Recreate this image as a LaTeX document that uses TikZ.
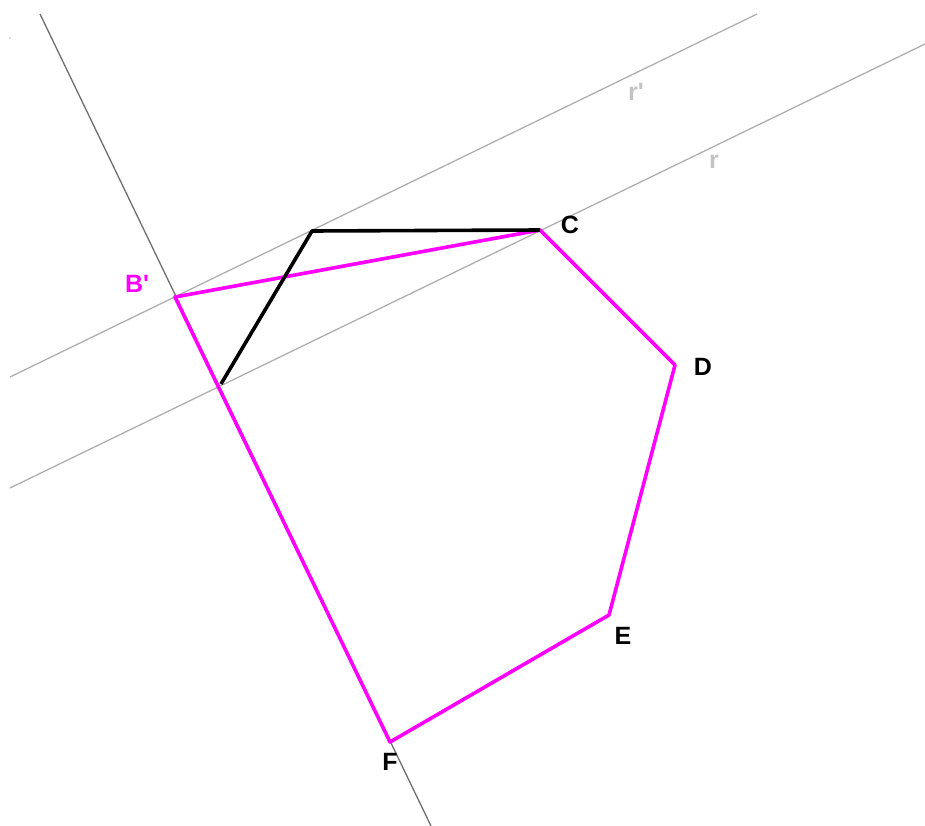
\documentclass[tikz,border=0pt]{standalone}
\usepackage{fontspec}
\setmainfont{Liberation Sans}
\begin{document}
\begin{tikzpicture}[x=1pt,y=-1pt,
  guide/.style={draw={rgb,255:red,175;green,175;blue,175},line width=1.3pt},
  guidedark/.style={draw={rgb,255:red,110;green,110;blue,110},line width=1.3pt},
  poly/.style={draw={rgb,255:red,255;green,0;blue,255},line width=3.6pt,line join=round},
  blk/.style={draw=black,line width=3.6pt,line join=round},
  lbl/.style={font=\fontsize{25}{29}\selectfont\bfseries,inner sep=0pt},
  glbl/.style={font=\fontsize{25}{29}\selectfont\bfseries,inner sep=0pt,text={rgb,255:red,195;green,195;blue,195}}
]
\useasboundingbox (0,0) rectangle (925,826);
% coordinates
\coordinate (B) at (175,297);
\coordinate (C) at (540,230);
\coordinate (D) at (675,365);
\coordinate (E) at (609,615);
\coordinate (F) at (390,742);
\coordinate (P) at (221,384);
\coordinate (Q) at (312,231);
\coordinate (L1a) at (40,14);
\coordinate (L1b) at (431,826);
\coordinate (Ra) at (10,488);
\coordinate (Rb) at (925,44);
\coordinate (Rpa) at (10,377);
\coordinate (Rpb) at (757,14);
% guide lines
\draw[guidedark] (L1a) -- (L1b);
\draw[guide] (Ra) -- (Rb);
\draw[guide] (Rpa) -- (Rpb);
\fill[gray!50] (10,38) circle (0.8);
% polygon
\draw[poly] (B) -- (C) -- (D) -- (E) -- (F) -- cycle;
% black
\draw[blk] (P) -- (Q) -- (C);
% labels
\node[lbl,text={rgb,255:red,255;green,0;blue,255}] (lB) at (137,284) {B\textquotesingle};
\node[lbl] (lC) at (570,225) {C};
\node[lbl] (lD) at (703,367) {D};
\node[lbl] (lE) at (623,636) {E};
\node[lbl] (lF) at (390,762) {F};
\node[glbl] (lr1) at (636,92) {r\textquotesingle};
\node[glbl] (lr) at (714,162) {r};
\end{tikzpicture}
\end{document}
